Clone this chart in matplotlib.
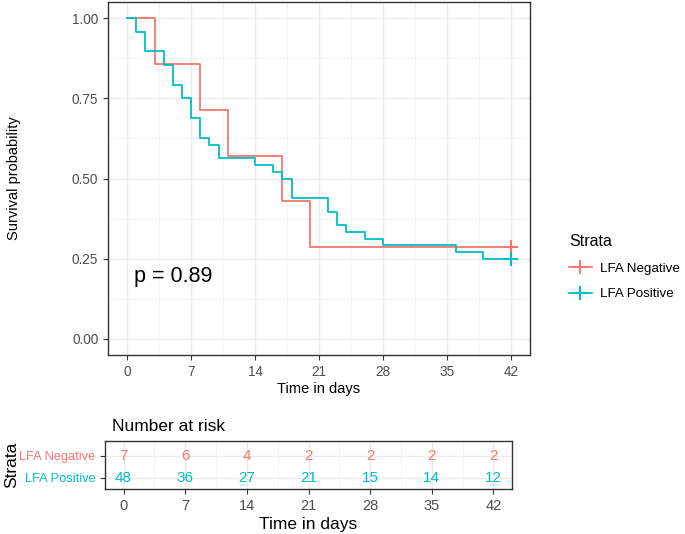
import numpy as np
import matplotlib.pyplot as plt
from matplotlib.lines import Line2D

plt.rcParams['font.family'] = ['Liberation Sans', 'DejaVu Sans']

# Kaplan-Meier step data
neg_times = [0, 3, 8, 11, 17, 20, 42]
neg_surv = [1.0, 0.857, 0.714, 0.571, 0.429, 0.286, 0.286]
pos_times = [0, 1, 2, 4, 5, 6, 7, 8, 9, 10, 14, 16, 17, 18, 22, 23, 24, 26, 28, 36, 39, 42]
pos_surv = [1.0, 0.958, 0.896, 0.854, 0.792, 0.75, 0.688, 0.625, 0.604, 0.563, 0.542,
            0.521, 0.5, 0.438, 0.396, 0.354, 0.333, 0.313, 0.292, 0.271, 0.25, 0.25]

strata = ["LFA Negative", "LFA Positive"]
colors = ["#F8766D", "#00BFC4"]

risk_times = [0, 7, 14, 21, 28, 35, 42]
risk_neg = [7, 6, 4, 2, 2, 2, 2]
risk_pos = [48, 36, 27, 21, 15, 14, 12]

xticks = [0, 7, 14, 21, 28, 35, 42]
yticks = [0.0, 0.25, 0.5, 0.75, 1.0]

W, H = 685, 534
fig = plt.figure(figsize=(W / 100, H / 100), dpi=100)


def frac(l, t, r, b):
    return [l / W, 1 - b / H, (r - l) / W, (b - t) / H]


def style(ax):
    for s in ax.spines.values():
        s.set_color("#333333")
        s.set_linewidth(1.0)
    ax.tick_params(colors="#333333", length=3.5, width=0.8, labelcolor="#4D4D4D")
    ax.set_axisbelow(True)


ax = fig.add_axes(frac(108, 2, 530, 355))
style(ax)
ax.set_xlim(-2.1, 44.1)
ax.set_ylim(-0.05, 1.05)
ax.set_xticks(xticks)
ax.set_yticks(yticks)
ax.set_yticklabels(["%.2f" % v for v in yticks])
ax.set_xticks(np.arange(3.5, 42, 7), minor=True)
ax.set_yticks(np.arange(0.125, 1.0, 0.25), minor=True)
ax.tick_params(which="minor", length=0)
ax.grid(True, which="major", color="#EBEBEB", lw=1.0)
ax.grid(True, which="minor", color="#F2F2F2", lw=0.6)
ax.tick_params(labelsize=9.8)

ax.step(neg_times, neg_surv, where="post", color=colors[0], lw=1.3)
ax.step(pos_times, pos_surv, where="post", color=colors[1], lw=1.3)
ax.plot(neg_times[-1], neg_surv[-1], marker="+", ms=10, mew=1.5, color=colors[0])
ax.plot(pos_times[-1], pos_surv[-1], marker="+", ms=10, mew=1.5, color=colors[1])

ax.text(0.75, 0.196, "p = 0.89", fontsize=15.5, va="center")
ax.set_xlabel("Time in days", fontsize=10.5, labelpad=2)
ax.set_ylabel("Survival probability", fontsize=10.5)
ax.yaxis.set_label_coords(-0.205, 0.5)

handles = [Line2D([], [], color=c, lw=1.3, marker="+", ms=10, mew=1.5) for c in colors]
fig.legend(handles, strata, title="Strata", loc="upper left",
           bbox_to_anchor=(557 / W, 1 - 222 / H), frameon=False,
           fontsize=9.6, title_fontsize=11.5, handlelength=1.7, handletextpad=0.6,
           labelspacing=1.0, alignment="left")

# risk table
tb = fig.add_axes(frac(105, 441, 512, 489))
style(tb)
tb.set_xlim(-2.1, 44.1)
tb.set_ylim(0.5, 2.65)
tb.set_xticks(xticks)
tb.set_xticks(np.arange(3.5, 42, 7), minor=True)
tb.set_yticks([2, 1])
tb.set_yticklabels(strata, fontsize=9.3)
for lab, c in zip(tb.get_yticklabels(), colors):
    lab.set_color(c)
tb.tick_params(which="minor", length=0)
tb.tick_params(axis="x", labelsize=10.5)
tb.grid(True, which="major", color="#EBEBEB", lw=1.0)
tb.grid(True, which="minor", axis="x", color="#F2F2F2", lw=0.6)
for t, a, b in zip(risk_times, risk_neg, risk_pos):
    tb.text(t, 2, str(a), color=colors[0], ha="center", va="center", fontsize=11)
    tb.text(t, 1, str(b), color=colors[1], ha="center", va="center", fontsize=11)
tb.set_xlabel("Time in days", fontsize=12.5, labelpad=3)
tb.set_ylabel("Strata", fontsize=12.5)
tb.yaxis.set_label_coords(-0.21, 0.5)
tb.set_title("Number at risk", loc="left", fontsize=12.5, pad=7, x=0.017)

fig.savefig("out.png", dpi=100)
